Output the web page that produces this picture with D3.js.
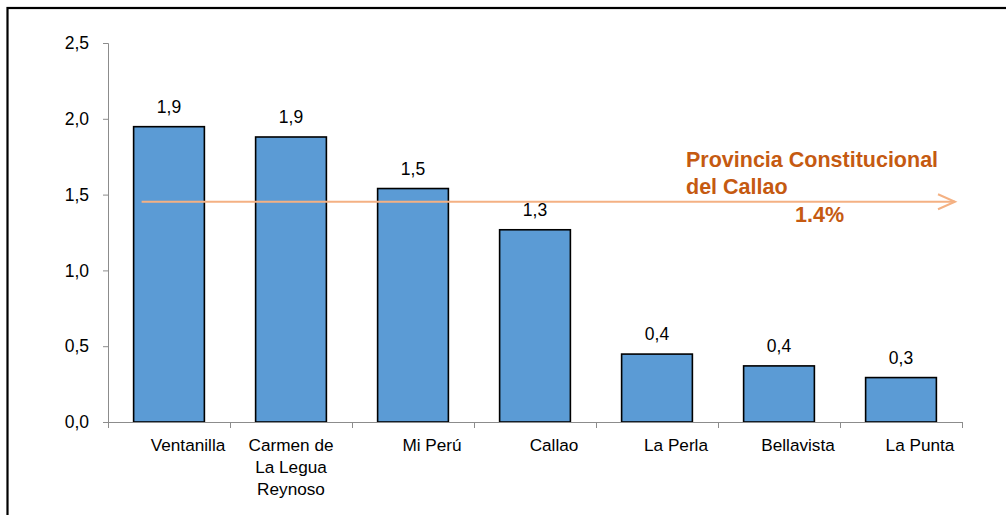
<!DOCTYPE html>
<html>
<head>
<meta charset="utf-8">
<script src="https://cdn.jsdelivr.net/npm/d3@7"></script>
<style>
  html, body { margin: 0; padding: 0; background: #fff; }
  svg { display: block; font-family: "Liberation Sans", Arial, sans-serif; }
</style>
</head>
<body>
<svg id="chart" width="1006" height="515"></svg>
<script>
const categories = ["Ventanilla", "Carmen de\nLa Legua\nReynoso", "Mi Perú", "Callao", "La Perla", "Bellavista", "La Punta"];
const values = [1.948, 1.88, 1.54, 1.268, 0.448, 0.37, 0.293];
const yTicks = [0, 0.5, 1.0, 1.5, 2.0, 2.5];
const provinciaValue = 1.453;
const provinciaLabel = ["Provincia Constitucional", "del Callao"];
const provinciaPct = "1.4%";

(function () {
const svg = d3.select("#chart");

// outer frame (right and bottom edges fall outside the picture)
svg.append("rect").attr("x", 7.5).attr("y", 8).attr("width", 1010).attr("height", 520)
  .attr("fill", "none").attr("stroke", "#000").attr("stroke-width", 2.2);

const mLeft = 108, mRight = 962, mTop = 43, mBottom = 422;
const x = d3.scaleBand().domain(categories).range([mLeft, mRight]).paddingInner(0.42).paddingOuter(0.21);
const y = d3.scaleLinear().domain([0, 2.5]).range([mBottom, mTop]);
const fmt = v => d3.format(".1f")(v).replace(".", ",");

// y axis
const yAxis = svg.append("g").attr("transform", `translate(${mLeft},0)`)
  .call(d3.axisLeft(y).tickValues(yTicks).tickSize(5).tickPadding(14).tickFormat(fmt));
yAxis.select(".domain").attr("stroke", "#8c8c8c");
yAxis.selectAll(".tick line").attr("stroke", "#8c8c8c");
yAxis.selectAll(".tick text").attr("font-size", 17.5).attr("fill", "#000")
  .attr("font-family", "Liberation Sans, Arial, sans-serif");

// bars
svg.append("g").selectAll("rect").data(values).join("rect")
  .attr("x", (d, i) => x(categories[i]))
  .attr("y", d => y(d))
  .attr("width", x.bandwidth())
  .attr("height", d => y(0) - y(d))
  .attr("fill", "#5B9BD5")
  .attr("stroke", "#000").attr("stroke-width", 1.6);

// value labels
svg.append("g").selectAll("text").data(values).join("text")
  .attr("x", (d, i) => x(categories[i]) + x.bandwidth() / 2)
  .attr("y", d => y(d) - 14)
  .attr("text-anchor", "middle").attr("font-size", 17.5).attr("fill", "#000")
  .text(d => fmt(d));

// x axis (category boundary ticks)
const xg = svg.append("g");
xg.append("line").attr("x1", mLeft).attr("x2", mRight).attr("y1", mBottom + 0.5).attr("y2", mBottom + 0.5)
  .attr("stroke", "#8c8c8c");
const bounds = categories.map(c => x(c) - x.step() * x.paddingInner() / 2).concat([mRight]);
xg.selectAll("line.t").data(bounds).join("line").attr("class", "t")
  .attr("x1", d => Math.round(d) + 0.5).attr("x2", d => Math.round(d) + 0.5)
  .attr("y1", mBottom).attr("y2", mBottom + 6).attr("stroke", "#8c8c8c");

categories.forEach((c, i) => {
  const lines = c.split("\n");
  const dx = lines.length > 1 ? 0 : 19;
  const t = xg.append("text")
    .attr("x", x(c) + x.bandwidth() / 2 + dx)
    .attr("y", 451)
    .attr("text-anchor", "middle").attr("font-size", 17.2).attr("fill", "#000");
  lines.forEach((l, j) => {
    t.append("tspan").attr("x", x(c) + x.bandwidth() / 2 + dx).attr("dy", j === 0 ? 0 : 22).text(l);
  });
});

// provincia reference arrow
const ly = y(provinciaValue);
const lx0 = x(categories[0]) + 8, lx1 = mRight - 7;
const arrow = svg.append("g").attr("stroke", "#F4B183").attr("stroke-width", 2).attr("fill", "none");
arrow.append("line").attr("x1", lx0).attr("x2", lx1).attr("y1", ly).attr("y2", ly);
arrow.append("path").attr("d", `M${lx1 - 17},${ly - 7.5} L${lx1},${ly} L${lx1 - 17},${ly + 7.5}`);

const lab = svg.append("g").attr("fill", "#C55A11").attr("font-weight", "bold");
lab.append("text").attr("x", 686).attr("y", 167).attr("font-size", 21.5).text(provinciaLabel[0]);
lab.append("text").attr("x", 686).attr("y", 194).attr("font-size", 21.5).text(provinciaLabel[1]);
lab.append("text").attr("x", 795).attr("y", 222).attr("font-size", 21.5).text(provinciaPct);
})();
</script>
</body>
</html>
